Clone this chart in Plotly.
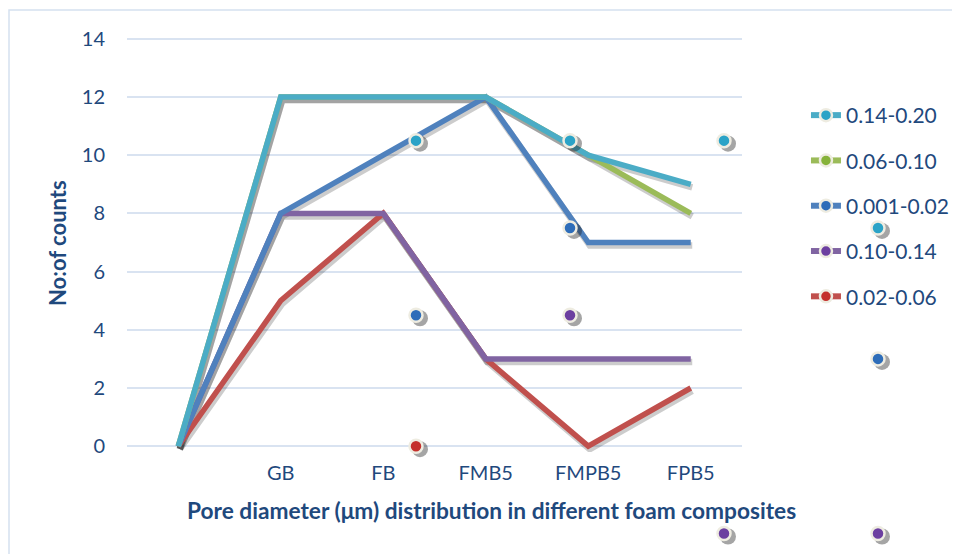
import plotly.graph_objects as go

# ---------------- data ----------------
categories = ["", "GB", "FB", "FMB5", "FMPB5", "FPB5"]
series_names = ["0.14-0.20", "0.06-0.10", "0.001-0.02", "0.10-0.14", "0.02-0.06"]
s_014_020 = [0, 12, 12, 12, 10, 9]
s_006_010 = [0, 12, 12, 12, 10, 8]
s_0001_002 = [0, 8, 10, 12, 7, 7]
s_010_014 = [0, 8, 8, 3, 3, 3]
s_002_006 = [0, 5, 8, 3, 0, 2]
y_ticks = [0, 2, 4, 6, 8, 10, 12, 14]

# stray (displaced) markers, on a separate slot axis
mk_014_020_slot = [1, 2, 3, 4]
mk_014_020_val = [10.5, 10.5, 10.5, 7.5]
mk_0001_002_slot = [1, 2, 4]
mk_0001_002_val = [4.5, 7.5, 3]
mk_002_006_slot = [1]
mk_002_006_val = [0]
mk_010_014_slot = [2, 3, 4]
mk_010_014_val = [4.5, -3, -3]

# ---------------- style ----------------
FONT = "Lato"
TXT = "#1F497D"
line_colors = {
    "0.14-0.20": "#4BACC6",
    "0.06-0.10": "#9BBB59",
    "0.001-0.02": "#4F81BD",
    "0.10-0.14": "#8064A2",
    "0.02-0.06": "#C0504D",
}
marker_colors = {
    "0.14-0.20": "#2BA3C7",
    "0.06-0.10": "#86B23A",
    "0.001-0.02": "#2E6DB9",
    "0.10-0.14": "#6C3FA0",
    "0.02-0.06": "#C4302C",
}
series_vals = {
    "0.14-0.20": s_014_020,
    "0.06-0.10": s_006_010,
    "0.001-0.02": s_0001_002,
    "0.10-0.14": s_010_014,
    "0.02-0.06": s_002_006,
}
markers = {
    "0.14-0.20": (mk_014_020_slot, mk_014_020_val),
    "0.001-0.02": (mk_0001_002_slot, mk_0001_002_val),
    "0.02-0.06": (mk_002_006_slot, mk_002_006_val),
    "0.10-0.14": (mk_010_014_slot, mk_010_014_val),
}
BORDER = "#EEECE1"

# ---------------- geometry (figure px) ----------------
FW, FH = 952, 546
PL, PR, PT, PB = 119, 734, 25, 444          # plot box
XR = [-0.5, len(categories) - 0.5]
YR = [-0.2, 14.2]
xpu = (PR - PL) / (XR[1] - XR[0])
ypu = (PB - PT) / (YR[1] - YR[0])
SLOT1_PX, SLOT_PX = 408.0, 154.0            # stray-marker slot axis
sdx, sdy = 1.5, 3.0      # line shadow offset
mdx, mdy = 4.0, 3.0      # marker shadow offset

dom_x = [PL / FW, PR / FW]
dom_y = [1 - PB / FH, 1 - PT / FH]
# full-figure axes for the stray markers
mx_range = [1 - SLOT1_PX / SLOT_PX, 1 + (FW - SLOT1_PX) / SLOT_PX]
my_range = [YR[0] - (FH - PB) / ypu, YR[1] + PT / ypu]

def shift_x(r, px, per):
    return [r[0] - px / per, r[1] - px / per]

def shift_y(r, px, per):
    return [r[0] + px / per, r[1] + px / per]

xs = list(range(len(categories)))
draw_order = ["0.02-0.06", "0.10-0.14", "0.001-0.02", "0.06-0.10", "0.14-0.20"]

fig = go.Figure()

# line shadows (primary hidden axes, shifted)
for name in draw_order:
    fig.add_trace(go.Scatter(
        x=xs, y=series_vals[name], mode="lines", xaxis="x", yaxis="y",
        line=dict(color="rgba(0,0,0,0.20)", width=6.5),
        showlegend=False, hoverinfo="skip"))

# main lines
for name in draw_order:
    fig.add_trace(go.Scatter(
        x=xs, y=series_vals[name], mode="lines", xaxis="x2", yaxis="y2",
        line=dict(color=line_colors[name], width=5.5),
        name=name, showlegend=False))

# marker shadows
for name, (sx, sv) in markers.items():
    fig.add_trace(go.Scatter(
        x=sx, y=sv, mode="markers", xaxis="x3", yaxis="y3",
        marker=dict(size=16, color="rgba(30,30,30,0.40)", line=dict(width=0)),
        cliponaxis=False, showlegend=False, hoverinfo="skip"))

# stray markers
for name, (sx, sv) in markers.items():
    fig.add_trace(go.Scatter(
        x=sx, y=sv, mode="markers", xaxis="x4", yaxis="y4",
        marker=dict(size=13, color=marker_colors[name],
                    line=dict(color=BORDER, width=2.5)),
        cliponaxis=False, showlegend=False, name=name))

# legend entries
for i, name in enumerate(series_names):
    fig.add_trace(go.Scatter(
        x=[None], y=[None], mode="lines+markers", xaxis="x2", yaxis="y2",
        name=name, legendgroup="g%d" % i,
        line=dict(color=line_colors[name], width=6),
        marker=dict(size=12, color=marker_colors[name],
                    line=dict(color=BORDER, width=2.5))))

fig.update_layout(
    width=FW, height=FH,
    margin=dict(l=0, r=0, t=0, b=0, autoexpand=False),
    paper_bgcolor="white", plot_bgcolor="rgba(0,0,0,0)",
    font=dict(family=FONT, color=TXT, size=20),
    xaxis=dict(domain=dom_x, anchor="y", range=shift_x(XR, sdx, xpu), visible=False),
    yaxis=dict(domain=dom_y, anchor="x", range=shift_y(YR, sdy, ypu), visible=False),
    xaxis2=dict(overlaying="x", anchor="y2", side="bottom", range=XR,
                tickvals=xs, ticktext=categories, showgrid=False,
                zeroline=False, showline=False, ticks="",
                ticklabelstandoff=7,
                tickfont=dict(family=FONT, size=20, color=TXT)),
    yaxis2=dict(overlaying="y", anchor="x2", side="left", range=YR,
                tickvals=y_ticks, showgrid=True, gridcolor="#D9E3F1",
                gridwidth=1.5, zeroline=False, showline=False, ticks="",
                ticklabelstandoff=21,
                tickfont=dict(family=FONT, size=20, color=TXT)),
    xaxis3=dict(domain=[0, 1], anchor="y3",
                range=shift_x(mx_range, mdx, SLOT_PX), visible=False),
    yaxis3=dict(domain=[0, 1], anchor="x3",
                range=shift_y(my_range, mdy, ypu), visible=False),
    xaxis4=dict(domain=[0, 1], anchor="y4", range=mx_range, visible=False),
    yaxis4=dict(domain=[0, 1], anchor="x4", range=my_range, visible=False),
    legend=dict(x=0.8382, y=0.8407, xanchor="left", yanchor="top",
                traceorder="grouped", tracegroupgap=15,
                font=dict(family=FONT, size=21, color=TXT),
                bgcolor="rgba(0,0,0,0)"),
    annotations=[
        dict(text="<b>No:of counts</b>", xref="paper", yref="paper",
             x=49 / FW, y=1 - 235 / FH, xanchor="center", yanchor="middle",
             textangle=-90, showarrow=False,
             font=dict(family=FONT, size=22, color=TXT)),
        dict(text="<b>Pore diameter (μm) distribution in different foam composites</b>",
             xref="paper", yref="paper", x=483.5 / FW, y=1 - 503 / FH,
             xanchor="center", yanchor="middle", showarrow=False,
             font=dict(family=FONT, size=22.7, color=TXT)),
    ],
    shapes=[dict(type="rect", xref="paper", yref="paper",
                 x0=1 / FW, y0=-1, x1=2, y1=1 - 2 / FH,
                 line=dict(color="#D5E1F0", width=1.5), layer="below")],
    showlegend=True,
)

fig.write_html("out.html")
